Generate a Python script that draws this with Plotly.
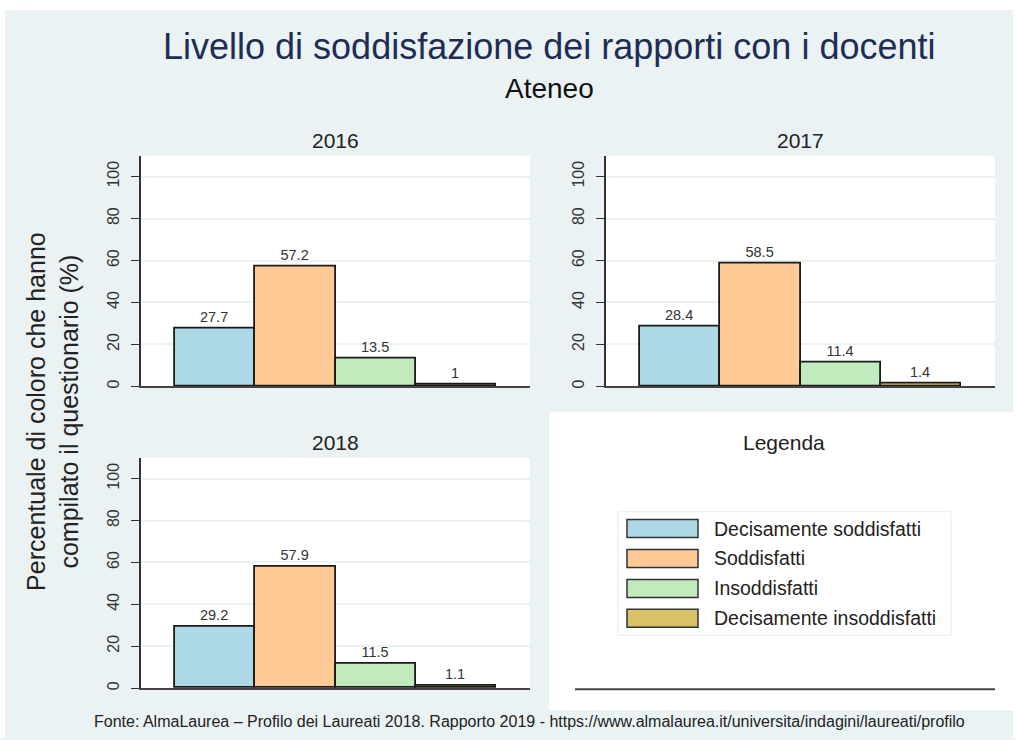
import plotly.graph_objects as go

W, H = 1016, 740

years = ["2016", "2017", "2018"]
categories = ["Decisamente soddisfatti", "Soddisfatti", "Insoddisfatti", "Decisamente insoddisfatti"]
values_2016 = [27.7, 57.2, 13.5, 1.0]
values_2017 = [28.4, 58.5, 11.4, 1.4]
values_2018 = [29.2, 57.9, 11.5, 1.1]
y_ticks = [0, 20, 40, 60, 80, 100]

colors = ["#ADD8E6", "#FFCA96", "#C1EABD", "#D8C265"]
bg = "#EAF2F3"
font = "Liberation Sans, Arial, sans-serif"

# pixel boxes (left, top, right, bottom) of each panel
panels = {
    "2016": (141, 156, 530, 387.5),
    "2017": (606, 156, 995, 387.5),
    "2018": (141, 459, 530, 690),
}
series = {"2016": values_2016, "2017": values_2017, "2018": values_2018}


def px_x(x):
    return x / W


def px_y(y):
    return 1 - y / H


def label(x, y, text, size, color="#222222", **kw):
    fig.add_annotation(
        x=px_x(x), y=px_y(y), xref="paper", yref="paper",
        xanchor=kw.pop("xanchor", "center"), yanchor="middle",
        text=text, showarrow=False,
        font=dict(size=size, color=color, family=font), **kw,
    )


fig = go.Figure()

for i, yr in enumerate(years):
    suffix = "" if i == 0 else str(i + 1)
    fig.add_trace(
        go.Bar(
            x=list(range(len(categories))),
            y=series[yr],
            width=1,
            marker=dict(color=colors, line=dict(color="#1a1a1a", width=1.8)),
            text=[f"{v:g}" for v in series[yr]],
            textposition="outside",
            textfont=dict(size=14.5, color="#333333", family=font),
            cliponaxis=False,
            hovertext=categories,
            showlegend=False,
            xaxis="x" + suffix,
            yaxis="y" + suffix,
        )
    )
    l, t, r, b = panels[yr]
    fig['layout']['xaxis' + suffix] = dict(
        domain=[px_x(l), px_x(r)],
        range=[-0.93, 3.93],
        showticklabels=False,
        ticks="",
        showgrid=False,
        zeroline=False,
        showline=True,
        linecolor="#444444",
        linewidth=1.5,
        anchor="y" + suffix,
    )
    fig['layout']['yaxis' + suffix] = dict(
        domain=[px_y(b), px_y(t)],
        range=[0, 110],
        tickvals=y_ticks,
        tickangle=-90,
        ticks="outside",
        ticklen=8,
        tickcolor="#333333",
        ticklabelstandoff=6,
        tickfont=dict(size=16, color="#333333", family=font),
        showgrid=True,
        gridcolor=bg,
        gridwidth=1.5,
        zeroline=False,
        showline=True,
        linecolor="#333333",
        linewidth=1.5,
        anchor="x" + suffix,
    )
    label((l + r) / 2, t - 15, yr, 21)

# legend panel (drawn by hand, as in the original)
fig.add_shape(type="rect", xref="paper", yref="paper",
              x0=px_x(549), x1=px_x(1013), y0=px_y(712), y1=px_y(413),
              fillcolor="white", line=dict(width=0), layer="below")
fig.add_shape(type="line", xref="paper", yref="paper",
              x0=px_x(575), x1=px_x(995), y0=px_y(691), y1=px_y(691),
              line=dict(color="#444444", width=2))
fig.add_shape(type="rect", xref="paper", yref="paper",
              x0=px_x(618), x1=px_x(951), y0=px_y(637), y1=px_y(513),
              fillcolor="white", line=dict(color="#E4EDEF", width=1))
label(784, 444, "Legenda", 21)
for k, (cat, col) in enumerate(zip(categories, colors)):
    yc = 530 + k * 30
    fig.add_shape(type="rect", xref="paper", yref="paper",
                  x0=px_x(627), x1=px_x(698), y0=px_y(yc + 9), y1=px_y(yc - 9),
                  fillcolor=col, line=dict(color="#333333", width=1.5))
    label(712, yc, cat, 19.5, xanchor="left")

# white frame around the graph region
for x0, x1, y0, y1 in [(0, W, 0, 10), (0, 5, 0, H), (1013, W, 0, H)]:
    fig.add_shape(type="rect", xref="paper", yref="paper",
                  x0=px_x(x0), x1=px_x(x1), y0=px_y(y1), y1=px_y(y0),
                  fillcolor="white", line=dict(width=0))

# titles and notes
label(549, 47, "Livello di soddisfazione dei rapporti con i docenti", 36, color="#1E2D55")
label(549, 89, "Ateneo", 28, color="#111111")
label(53, 413, "Percentuale di coloro che hanno<br>compilato il questionario (%)", 25,
      textangle=-90)
label(529, 723,
      "Fonte: AlmaLaurea \u2013 Profilo dei Laureati 2018. Rapporto 2019 - https://www.almalaurea.it/universita/indagini/laureati/profilo",
      16)

fig.update_layout(
    width=W,
    height=H,
    margin=dict(l=0, r=0, t=0, b=0),
    paper_bgcolor=bg,
    plot_bgcolor="white",
    bargap=0,
    font=dict(family=font),
)

fig.write_html("out.html", config={"displayModeBar": False},
               post_script="document.body.style.margin='0';")
